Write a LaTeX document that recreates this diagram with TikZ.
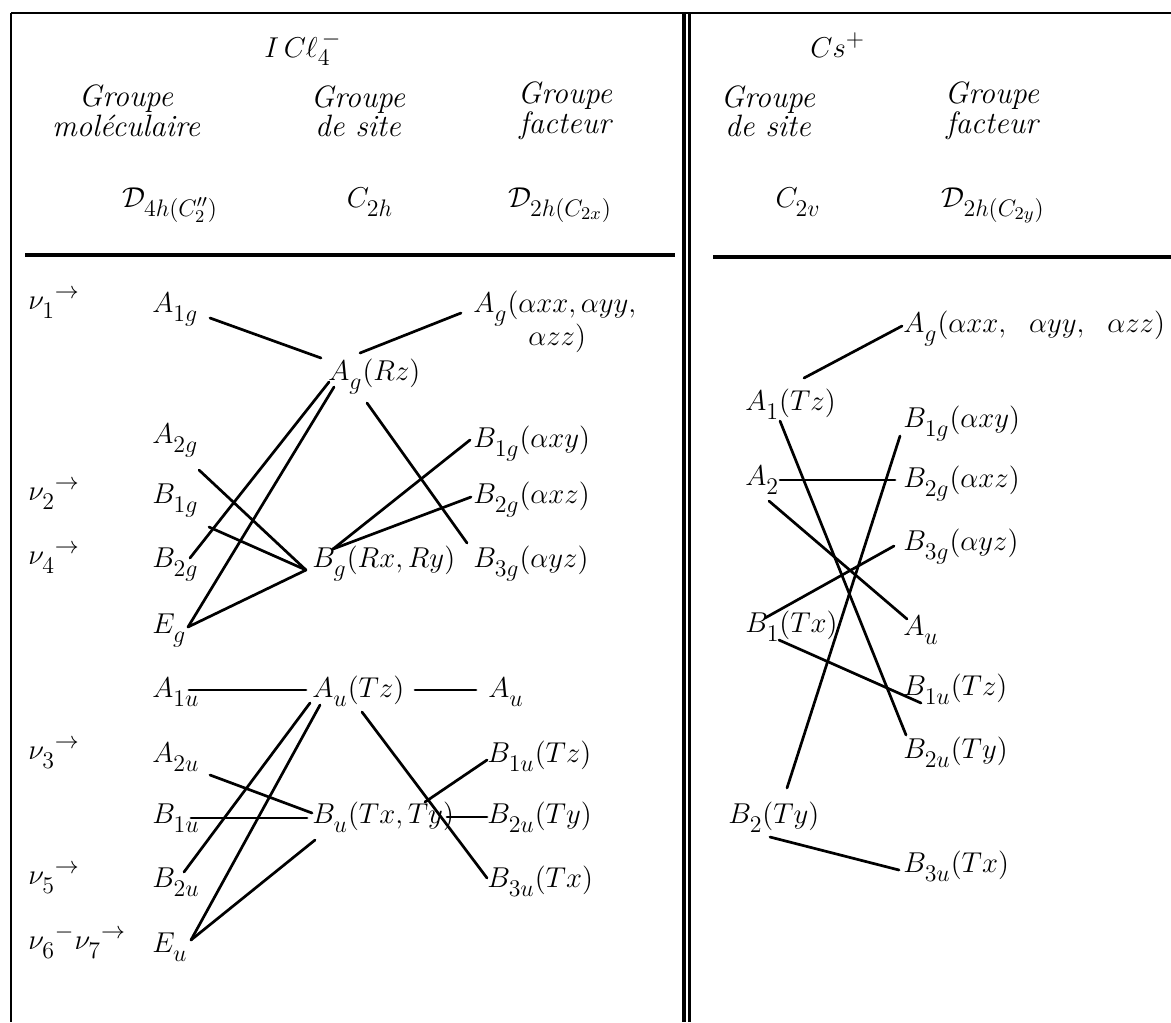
\documentclass[tikz,border=0pt]{standalone}
\usepackage{fontspec}
\usetikzlibrary{calc}
\DeclareMathSizes{14}{14}{11.5}{9}
\makeatletter
% indices abaisses comme sur la machine a ecrire
\newcommand\lowsubs{\check@mathfonts\fontdimen16\textfont2=4.5bp\fontdimen17\textfont2=4.5bp}
\makeatother
\tikzset{
  irrep/.style={
    anchor=base west,
    inner sep=0pt,
    font=\fontsize{14}{16}\selectfont\lowsubs
  },
  grouphead/.style={
    align=center,
    inner sep=0pt,
    font=\fontsize{15.5}{13}\selectfont\itshape
  },
  groupsym/.style={
    anchor=base,
    inner sep=0pt,
    font=\fontsize{14}{16}\selectfont\lowsubs
  },
  corrline/.style={
    line width=1.35bp,
    line cap=round,
    draw=black
  },
  tableline/.style={
    line width=1.3bp,
    draw=black
  }
}

\begin{document}
\begin{tikzpicture}[x=0.5bp,y=-0.5bp]
  \useasboundingbox (0,0) rectangle (1171,1022);

  % cadre et filets du tableau
  \draw[tableline] (11,13) -- (1171,13);
  \draw[tableline] (11,13) -- (11,1022);
  \draw[tableline,line width=1.6bp] (684,13) -- (684,1022);
  \draw[tableline,line width=1.6bp] (689.5,13) -- (689.5,1022);
  \draw[tableline,line width=1.6bp] (25,255) -- (675,255);
  \draw[tableline,line width=1.6bp] (713,257) -- (1171,257);

  \node[irrep] (icl) at (264,57) {$I\,C\ell_4^{\,-}$};
  \node[irrep] (cs) at (810,57) {$Cs^{+}$};
  \node[grouphead] (hmol) at (126,111) {Groupe\\moléculaire};
  \node[grouphead] (hsite) at (358,111) {Groupe\\de site};
  \node[grouphead] (hfact) at (565,111) {Groupe\\facteur};
  \node[grouphead] (hcsite) at (768,111) {Groupe\\de site};
  \node[grouphead] (hcfact) at (992,111) {Groupe\\facteur};
  \node[groupsym] (dfourh) at (170,207) {$\mathcal{D}_{4h(C''_2)}$};
  \node[groupsym] (ctwoh) at (370,207) {$C_{2h}$};
  \node[groupsym] (dtwohx) at (560,207) {$\mathcal{D}_{2h(C_{2x})}$};
  \node[groupsym] (ctwov) at (798,207) {$C_{2v}$};
  \node[groupsym] (dtwohy) at (993,207) {$\mathcal{D}_{2h(C_{2y})}$};

  \node[irrep] (nuone) at (28,309) {$\nu_1{}^{\rightarrow}$};
  \node[irrep] (nutwo) at (28,500) {$\nu_2{}^{\rightarrow}$};
  \node[irrep] (nufour) at (28,564) {$\nu_4{}^{\rightarrow}$};
  \node[irrep] (nuthree) at (28,759) {$\nu_3{}^{\rightarrow}$};
  \node[irrep] (nufive) at (28,884) {$\nu_5{}^{\rightarrow}$};
  \node[irrep] (nusix) at (28,949) {$\nu_6{}^{-}\nu_7{}^{\rightarrow}$};

  \node[irrep] (mA1g) at (152,312) {$A_{1g}$};
  \node[irrep] (mA2g) at (152,443) {$A_{2g}$};
  \node[irrep] (mB1g) at (152,503) {$B_{1g}$};
  \node[irrep] (mB2g) at (152,567) {$B_{2g}$};
  \node[irrep] (mEg) at (152,633) {$E_{g}$};
  \node[irrep] (mA1u) at (152,697) {$A_{1u}$};
  \node[irrep] (mA2u) at (152,762) {$A_{2u}$};
  \node[irrep] (mB1u) at (152,823) {$B_{1u}$};
  \node[irrep] (mB2u) at (152,887) {$B_{2u}$};
  \node[irrep] (mEu) at (152,952) {$E_{u}$};

  \node[irrep] (sAg) at (328,380) {$A_g(Rz)$};
  \node[irrep] (sBg) at (312,567) {$B_g(Rx,Ry)$};
  \node[irrep] (sAu) at (312,697) {$A_u(Tz)$};
  \node[irrep] (sBu) at (312,823) {$B_u(Tx,Ty)$};

  \node[irrep] (fAg) at (473,312) {$A_g(\alpha xx,\alpha yy,$};
  \node[irrep] (fAgz) at (528,345) {$\alpha zz)$};
  \node[irrep] (fB1g) at (473,447) {$B_{1g}(\alpha xy)$};
  \node[irrep] (fB2g) at (473,503) {$B_{2g}(\alpha xz)$};
  \node[irrep] (fB3g) at (473,567) {$B_{3g}(\alpha yz)$};
  \node[irrep] (fAu) at (488,697) {$A_u$};
  \node[irrep] (fB1u) at (487,762) {$B_{1u}(Tz)$};
  \node[irrep] (fB2u) at (487,823) {$B_{2u}(Ty)$};
  \node[irrep] (fB3u) at (487,887) {$B_{3u}(Tx)$};

  \node[irrep] (cA1) at (745,410) {$A_1(Tz)$};
  \node[irrep] (cA2) at (745,485) {$A_2$};
  \node[irrep] (cB1) at (745,632) {$B_1(Tx)$};
  \node[irrep] (cB2) at (728,823) {$B_2(Ty)$};

  \node[irrep] (gAg) at (903,332) {$A_g(\alpha xx,\ \ \alpha yy,\ \ \alpha zz)$};
  \node[irrep] (gB1g) at (903,427) {$B_{1g}(\alpha xy)$};
  \node[irrep] (gB2g) at (903,487) {$B_{2g}(\alpha xz)$};
  \node[irrep] (gB3g) at (903,550) {$B_{3g}(\alpha yz)$};
  \node[irrep] (gAu) at (903,635) {$A_u$};
  \node[irrep] (gB1u) at (903,695) {$B_{1u}(Tz)$};
  \node[irrep] (gB2u) at (903,758) {$B_{2u}(Ty)$};
  \node[irrep] (gB3u) at (903,872) {$B_{3u}(Tx)$};

  % correlations ICl4- : vibrations g
  \draw[corrline] ($(mA1g.base west)+(58,6)$) -- ($(sAg.base west)+(-7,-22)$);
  \draw[corrline] ($(sAg.base west)+(32,-27)$) -- ($(fAg.base west)+(-12,1)$);
  \draw[corrline] ($(sAg.base west)+(1,2)$) -- ($(mB2g.base west)+(38,-9)$);
  \draw[corrline] ($(sAg.base west)+(6,7)$) -- ($(mEg.base west)+(36,-6)$);
  \draw[corrline] ($(sAg.base west)+(39,23)$) -- ($(fB3g.base west)+(-6,-24)$);
  \draw[corrline] ($(mA2g.base west)+(47,27)$) -- ($(sBg.base west)+(-6,3)$);
  \draw[corrline] ($(mB1g.base west)+(57,24)$) -- ($(sBg.base west)+(-6,3)$);
  \draw[corrline] ($(mEg.base west)+(36,-6)$) -- ($(sBg.base west)+(-6,3)$);
  \draw[corrline] ($(sBg.base west)+(21,-18)$) -- ($(fB1g.base west)+(-3,-7)$);
  \draw[corrline] ($(sBg.base west)+(21,-18)$) -- ($(fB2g.base west)+(-2,-6)$);

  % correlations ICl4- : vibrations u
  \draw[corrline] ($(mA1u.base west)+(37,-7)$) -- ($(sAu.base west)+(-6,-7)$);
  \draw[corrline] ($(sAu.base west)+(103,-7)$) -- ($(fAu.base west)+(-12,-7)$);
  \draw[corrline] ($(sAu.base west)+(-2,6)$) -- ($(mB2u.base west)+(32,-15)$);
  \draw[corrline] ($(sAu.base west)+(8,8)$) -- ($(mEu.base west)+(39,-12)$);
  \draw[corrline] ($(sAu.base west)+(50,15)$) -- ($(fB3u.base west)+(0,-9)$);
  \draw[corrline] ($(mA2u.base west)+(58,13)$) -- ($(sBu.base west)+(0,-10)$);
  \draw[corrline] ($(mB1u.base west)+(39,-5)$) -- ($(sBu.base west)+(-5,-5)$);
  \draw[corrline] ($(mEu.base west)+(39,-12)$) -- ($(sBu.base west)+(3,17)$);
  \draw[corrline] ($(sBu.base west)+(113,-21)$) -- ($(fB1u.base west)+(0,-2)$);
  \draw[corrline] ($(sBu.base west)+(135,-6)$) -- ($(fB2u.base west)+(0,-6)$);

  % correlations Cs+
  \draw[corrline] ($(cA1.base west)+(59,-32)$) -- ($(gAg.base west)+(-1,-6)$);
  \draw[corrline] ($(cA1.base west)+(35,11)$) -- ($(gB2u.base west)+(3,-23)$);
  \draw[corrline] ($(cA2.base west)+(35,-5)$) -- ($(gB2g.base west)+(-8,-7)$);
  \draw[corrline] ($(cA2.base west)+(24,16)$) -- ($(gAu.base west)+(4,-16)$);
  \draw[corrline] ($(cB1.base west)+(20,-14)$) -- ($(gB3g.base west)+(-9,-4)$);
  \draw[corrline] ($(cB1.base west)+(34,8)$) -- ($(gB1u.base west)+(18,8)$);
  \draw[corrline] ($(cB2.base west)+(59,-35)$) -- ($(gB1g.base west)+(-3,9)$);
  \draw[corrline] ($(cB2.base west)+(42,14)$) -- ($(gB3u.base west)+(-4,-2)$);
\end{tikzpicture}
\end{document}
